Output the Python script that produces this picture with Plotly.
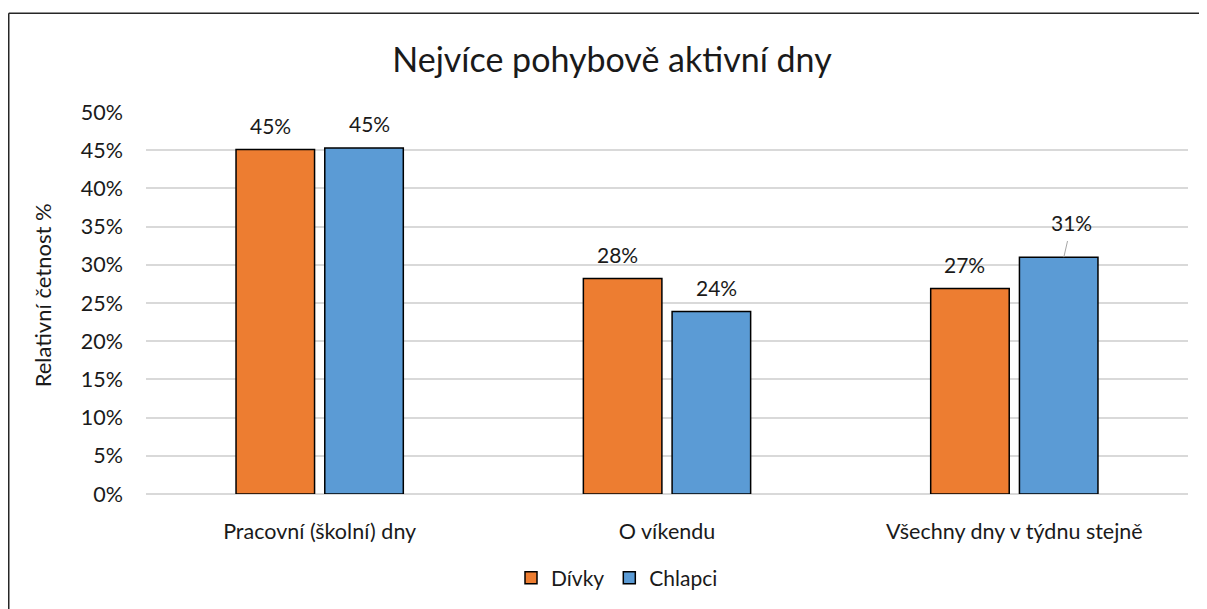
import plotly.graph_objects as go

kategorie = ["Pracovní (školní) dny", "O víkendu", "Všechny dny v týdnu stejně"]
divky = [45.1, 28.2, 26.9]
chlapci = [45.3, 23.9, 31.0]
popisky_divky = ["45%", "28%", "27%"]
popisky_chlapci = ["45%", "24%", "31%"]
y_ticks = [0, 5, 10, 15, 20, 25, 30, 35, 40, 45, 50]

FONT = "Lato"
# stránka má okraj 8 px, graf je proto o 8 px menší
W, H = 1199, 601
L, R, T, B = 138, 19, 104, 114
PW, PH = W - L - R, H - T - B
TXT = "#1a1a1a"

fig = go.Figure()
fig.add_trace(go.Bar(x=kategorie, y=divky, name="Dívky",
                     marker=dict(color="#ED7D31", line=dict(color="black", width=1.5))))
fig.add_trace(go.Bar(x=kategorie, y=chlapci, name="Chlapci",
                     marker=dict(color="#5B9BD5", line=dict(color="black", width=1.5))))

# popisky hodnot
off = 49.5
for k, v, t in zip(kategorie, divky, popisky_divky):
    fig.add_annotation(x=k, y=v, text=t, showarrow=False, xshift=-off, yshift=24,
                       yanchor="middle", font=dict(size=21, color=TXT, family=FONT))
for k, v, t in zip(kategorie[:2], chlapci[:2], popisky_chlapci[:2]):
    fig.add_annotation(x=k, y=v, text=t, showarrow=False, xshift=off, yshift=24,
                       yanchor="middle", font=dict(size=21, color=TXT, family=FONT))
# 31 % s odkazovou čarou
fig.add_annotation(x=kategorie[2], y=chlapci[2], text=popisky_chlapci[2], xshift=off,
                   showarrow=True, arrowhead=0, arrowcolor="#a6a6a6", arrowwidth=1,
                   ax=8, ay=-35, startstandoff=5,
                   font=dict(size=21, color=TXT, family=FONT))

# osa y - popisek
fig.add_annotation(xref="paper", yref="paper", x=(34 - L) / PW, y=0.52,
                   xanchor="center", yanchor="middle",
                   text="Relativní četnost %", textangle=-90, showarrow=False,
                   font=dict(size=22, color=TXT, family=FONT))

# rámeček grafu (levá a horní hrana)
x_left = (0.75 - L) / PW
x_right = (W - L + 5) / PW
y_top = (H - B - 5) / PH
fig.add_shape(type="line", xref="paper", yref="paper", x0=x_left, x1=x_left,
              y0=-(B + 5) / PH, y1=y_top, line=dict(color="#262626", width=1.5))
fig.add_shape(type="line", xref="paper", yref="paper", x0=x_left, x1=x_right,
              y0=y_top, y1=y_top, line=dict(color="#262626", width=1.5))

fig.update_layout(
    width=W, height=H,
    margin=dict(l=L, r=R, t=T, b=B),
    paper_bgcolor="white", plot_bgcolor="white",
    font=dict(family=FONT, size=21, color=TXT),
    title=dict(text="Nejvíce pohybově aktivní dny", x=604 / W, xanchor="center",
               y=1 - 52 / H, yanchor="middle", font=dict(size=34, color=TXT)),
    barmode="group", bargap=0.489, bargroupgap=0.115,
    showlegend=True,
    legend=dict(orientation="h", x=(609 - L) / PW, xanchor="center",
                y=(H - B - 570) / PH, yanchor="middle",
                font=dict(size=21, color=TXT), itemwidth=30),
    xaxis=dict(showline=False, ticks="", ticklabelstandoff=22,
               tickfont=dict(size=21.5, color=TXT)),
    yaxis=dict(range=[0, 50], tickvals=y_ticks, ticktext=[f"{v}%" for v in y_ticks],
               showgrid=True, gridcolor="#d9d9d9", gridwidth=1.5,
               zeroline=True, zerolinecolor="#d9d9d9", zerolinewidth=1.5,
               ticks="", ticklabelstandoff=22,
               tickfont=dict(size=21.5, color=TXT)),
)

fig.write_html("out.html", config={"displayModeBar": False})
